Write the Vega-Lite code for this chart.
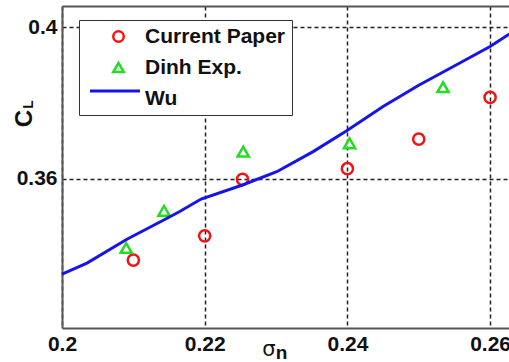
{
  "$schema": "https://vega.github.io/schema/vega-lite/v6.json",
  "width": 447,
  "height": 322,
  "autosize": "none",
  "padding": {"left": 62, "top": 6, "right": 0, "bottom": 34},
  "background": "white",
  "config": {"view": {"stroke": null}, "font": "Liberation Sans"},
  "title": {
    "text": "L", "orient": "top", "anchor": "start", "frame": "group", "offset": 0,
    "angle": 270, "align": "center", "baseline": "middle",
    "dx": -107, "dy": -33,
    "font": "Liberation Sans", "fontSize": 14, "fontWeight": "bold", "color": "#111"
  },
  "datasets": {
    "points": [
      {"series": "Current Paper", "sigma": 0.2100, "cl": 0.3386},
      {"series": "Current Paper", "sigma": 0.2200, "cl": 0.3450},
      {"series": "Current Paper", "sigma": 0.2253, "cl": 0.3599},
      {"series": "Current Paper", "sigma": 0.2400, "cl": 0.3627},
      {"series": "Current Paper", "sigma": 0.2500, "cl": 0.3705},
      {"series": "Current Paper", "sigma": 0.2600, "cl": 0.3815},
      {"series": "Dinh Exp.", "sigma": 0.2090, "cl": 0.3418},
      {"series": "Dinh Exp.", "sigma": 0.2143, "cl": 0.3516},
      {"series": "Dinh Exp.", "sigma": 0.2254, "cl": 0.3672},
      {"series": "Dinh Exp.", "sigma": 0.2403, "cl": 0.3694},
      {"series": "Dinh Exp.", "sigma": 0.2534, "cl": 0.3842}
    ],
    "wu": [
      {"series": "Wu", "sigma": 0.2000, "cl": 0.3349},
      {"series": "Wu", "sigma": 0.2035, "cl": 0.3378},
      {"series": "Wu", "sigma": 0.2091, "cl": 0.3441},
      {"series": "Wu", "sigma": 0.2148, "cl": 0.3497},
      {"series": "Wu", "sigma": 0.2165, "cl": 0.3514},
      {"series": "Wu", "sigma": 0.2195, "cl": 0.3547},
      {"series": "Wu", "sigma": 0.2253, "cl": 0.3584},
      {"series": "Wu", "sigma": 0.2301, "cl": 0.3619},
      {"series": "Wu", "sigma": 0.2352, "cl": 0.3672},
      {"series": "Wu", "sigma": 0.2399, "cl": 0.3727},
      {"series": "Wu", "sigma": 0.2450, "cl": 0.3791},
      {"series": "Wu", "sigma": 0.2500, "cl": 0.3847},
      {"series": "Wu", "sigma": 0.2544, "cl": 0.3892},
      {"series": "Wu", "sigma": 0.2600, "cl": 0.3949},
      {"series": "Wu", "sigma": 0.2627, "cl": 0.3982}
    ]
  },
  "layer": [
    {
      "data": {"name": "points"},
      "mark": {"type": "point", "filled": false, "strokeWidth": 2.5, "opacity": 1, "size": 125},
      "encoding": {
        "x": {
          "field": "sigma", "type": "quantitative",
          "scale": {"domain": [0.2, 0.26265], "nice": false, "zero": false},
          "axis": {
            "orient": "bottom", "values": [0.2, 0.22, 0.24, 0.26], "format": "~g",
            "labelFont": "Liberation Sans", "labelFontSize": 21, "labelFontWeight": "bold", "labelColor": "#111",
            "labelFlush": false, "labelOverlap": false, "labelPadding": 5,
            "ticks": false,
            "domain": true, "domainColor": "#555", "domainWidth": 2,
            "grid": true, "gridColor": "#222", "gridDash": [4, 3], "gridWidth": 1.5, "gridOpacity": 1,
            "title": "σ", "titleFont": "DejaVu Sans", "titleFontSize": 21, "titleFontWeight": "normal", "titleColor": "#111",
            "titleX": 206.5, "titleY": 27, "titleAlign": "center", "titleBaseline": "alphabetic"
          }
        },
        "y": {
          "field": "cl", "type": "quantitative",
          "scale": {"domain": [0.3207, 0.4056], "nice": false, "zero": false},
          "axis": {
            "orient": "left", "values": [0.36, 0.4], "format": "~g",
            "labelFont": "Liberation Sans", "labelFontSize": 21, "labelFontWeight": "bold", "labelColor": "#111",
            "labelFlush": false, "labelOverlap": false, "labelPadding": 5,
            "ticks": false,
            "domain": true, "domainColor": "#555", "domainWidth": 2,
            "grid": true, "gridColor": "#222", "gridDash": [4, 3], "gridWidth": 1.5, "gridOpacity": 1,
            "title": "C", "titleFont": "Liberation Sans", "titleFontSize": 24, "titleFontWeight": "bold", "titleColor": "#111",
            "titleAngle": 270, "titleX": -38, "titleY": 112, "titleAlign": "center", "titleBaseline": "middle"
          }
        },
        "color": {
          "field": "series", "type": "nominal",
          "scale": {"domain": ["Current Paper", "Dinh Exp.", "Wu"], "range": ["#f01414", "#22dd22", "transparent"]},
          "legend": {
            "orient": "none", "legendX": 17, "legendY": 14, "title": null,
            "labelFont": "Liberation Sans", "labelFontSize": 21, "labelFontWeight": "bold", "labelColor": "#111",
            "symbolStrokeWidth": 2.5, "symbolSize": 110, "padding": 6, "rowPadding": 9,
            "symbolOffset": 23, "labelOffset": 16,
            "strokeColor": "#333", "fillColor": "white", "zindex": 0
          }
        },
        "shape": {
          "field": "series", "type": "nominal",
          "scale": {"domain": ["Current Paper", "Dinh Exp.", "Wu"], "range": ["circle", "triangle-up", "stroke"]},
          "legend": {
            "orient": "none", "legendX": 17, "legendY": 14, "title": null,
            "labelFont": "Liberation Sans", "labelFontSize": 21, "labelFontWeight": "bold", "labelColor": "#111",
            "symbolStrokeWidth": 2.5, "symbolSize": 110, "padding": 6, "rowPadding": 9,
            "symbolOffset": 23, "labelOffset": 16,
            "strokeColor": "#333", "fillColor": "white", "zindex": 0
          }
        }
      }
    },
    {
      "data": {"name": "wu"},
      "mark": {"type": "line", "strokeWidth": 3},
      "encoding": {
        "x": {
          "field": "sigma", "type": "quantitative",
          "axis": {
            "orient": "top", "values": [0.2, 0.22, 0.24, 0.26], "labels": false, "ticks": false,
            "domain": true, "domainColor": "#555", "domainWidth": 2, "grid": false,
            "title": "n", "titleFont": "Liberation Sans", "titleFontSize": 19, "titleFontWeight": "bold", "titleColor": "#111",
            "titleX": 219, "titleY": 352, "titleAlign": "center", "titleBaseline": "alphabetic"
          }
        },
        "y": {
          "field": "cl", "type": "quantitative",
          "axis": null
        },
        "stroke": {
          "field": "series", "type": "nominal",
          "scale": {"domain": ["Wu"], "range": ["#1515e8"]},
          "legend": {
            "orient": "none", "legendX": 26.5, "legendY": 58.5, "title": null,
            "symbolType": "stroke", "symbolSize": 2500, "symbolStrokeWidth": 3,
            "labelExpr": "''", "labelFontSize": 1, "labelOffset": 0, "padding": 0,
            "zindex": 2
          }
        }
      }
    }
  ],
  "resolve": {"axis": {"x": "independent", "y": "independent"}}
}
